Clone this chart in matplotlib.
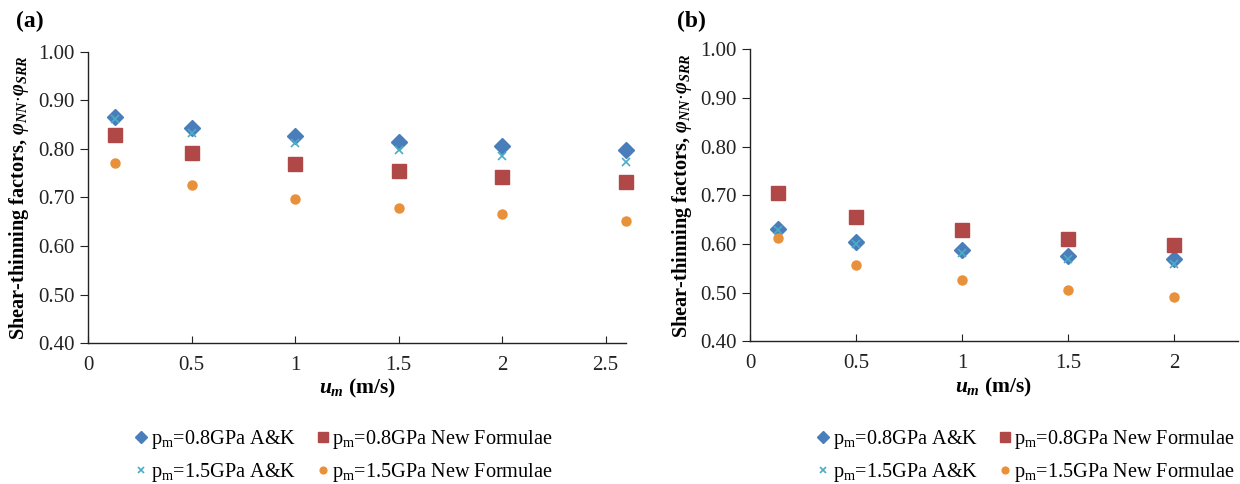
import matplotlib
matplotlib.use('Agg')
import matplotlib.pyplot as plt

plt.rcParams['font.family'] = ['Liberation Serif', 'DejaVu Serif']
plt.rcParams['mathtext.fontset'] = 'custom'
plt.rcParams['mathtext.rm'] = 'Liberation Serif'
plt.rcParams['mathtext.it'] = 'Liberation Serif:italic:bold'
plt.rcParams['mathtext.bf'] = 'Liberation Serif:bold'

# mean velocity (m/s)
u_a = [0.13, 0.5, 1.0, 1.5, 2.0, 2.6]
u_b = [0.13, 0.5, 1.0, 1.5, 2.0]

# panel (a)
a_08_ak = [0.866, 0.844, 0.827, 0.815, 0.806, 0.798]
a_08_new = [0.829, 0.792, 0.769, 0.754, 0.742, 0.731]
a_15_ak = [0.861, 0.832, 0.812, 0.798, 0.786, 0.774]
a_15_new = [0.772, 0.726, 0.697, 0.679, 0.665, 0.652]

# panel (b)
b_08_ak = [0.630, 0.604, 0.587, 0.576, 0.569]
b_08_new = [0.704, 0.656, 0.628, 0.610, 0.597]
b_15_ak = [0.629, 0.600, 0.582, 0.569, 0.559]
b_15_new = [0.613, 0.557, 0.525, 0.505, 0.490]

labels = [r'p$_{\mathrm{m}}$=0.8GPa A&K', r'p$_{\mathrm{m}}$=0.8GPa New Formulae',
          r'p$_{\mathrm{m}}$=1.5GPa A&K', r'p$_{\mathrm{m}}$=1.5GPa New Formulae']
styles = [dict(marker='D', color='#4A7EBB', markersize=8.5),
          dict(marker='s', color='#B04848', markersize=9.5),
          dict(marker='x', color='#4BACC6', markersize=5.5, markeredgewidth=1.2),
          dict(marker='o', color='#E8913A', markersize=6.5)]

fig = plt.figure(figsize=(12.4, 4.84), dpi=100)
ax_a = fig.add_axes([0.071, 0.291, 0.434, 0.602])
ax_b = fig.add_axes([0.605, 0.295, 0.393, 0.603])


def draw_panel(ax, u, series, xmax, xticks, xticklabels, tag, tag_x, leg_x):
    handles = []
    for s, st, lab in zip(series, styles, labels):
        h, = ax.plot(u, s, linestyle='none', clip_on=False, label=lab,
                     marker=st['marker'], markersize=st['markersize'],
                     markeredgewidth=st.get('markeredgewidth', 1.0),
                     color=st['color'], markeredgecolor=st['color'])
        handles.append(h)
    ax.set_xlim(0, xmax)
    ax.set_ylim(0.40, 1.00)
    ax.set_yticks([0.40, 0.50, 0.60, 0.70, 0.80, 0.90, 1.00])
    ax.set_yticklabels(['%.2f' % v for v in ax.get_yticks()])
    ax.set_xticks(xticks)
    ax.set_xticklabels(xticklabels)
    for side in ['top', 'right']:
        ax.spines[side].set_visible(False)
    for side in ['left', 'bottom']:
        ax.spines[side].set_color('#222222')
        ax.spines[side].set_linewidth(1.0)
    ax.tick_params(axis='y', direction='out', length=6, width=0.8, labelsize=15, colors='#222222')
    ax.tick_params(axis='x', direction='in', length=5, width=0.8, labelsize=15, pad=9, colors='#222222')
    ax.set_xlabel(r'$u_m$ (m/s)', fontsize=15.5, fontweight='bold', labelpad=2)
    ax.set_ylabel(r'Shear-thinning factors, $\varphi_{NN}\!\cdot\!\varphi_{SRR}$',
                  fontsize=14.6, fontweight='bold', labelpad=5)
    fig.text(tag_x, 0.955, tag, fontsize=17, fontweight='bold', va='center')
    # matplotlib fills legend columns first, so reorder to read row by row
    leg_order = [handles[0], handles[2], handles[1], handles[3]]
    fig.legend(leg_order, [h.get_label() for h in leg_order], ncol=2, frameon=False,
               loc='center left', bbox_to_anchor=(leg_x, 0.057), fontsize=14.6,
               handletextpad=0.0, handlelength=0.9, columnspacing=0.9, labelspacing=0.5,
               markerscale=0.75)


draw_panel(ax_a, u_a, [a_08_ak, a_08_new, a_15_ak, a_15_new], 2.6,
           [0, 0.5, 1, 1.5, 2, 2.5], ['0', '0.5', '1', '1.5', '2', '2.5'], '(a)', 0.013, 0.092)
draw_panel(ax_b, u_b, [b_08_ak, b_08_new, b_15_ak, b_15_new], 2.3,
           [0, 0.5, 1, 1.5, 2], ['0', '0.5', '1', '1.5', '2'], '(b)', 0.546, 0.642)

plt.savefig('out.png', dpi=100)
